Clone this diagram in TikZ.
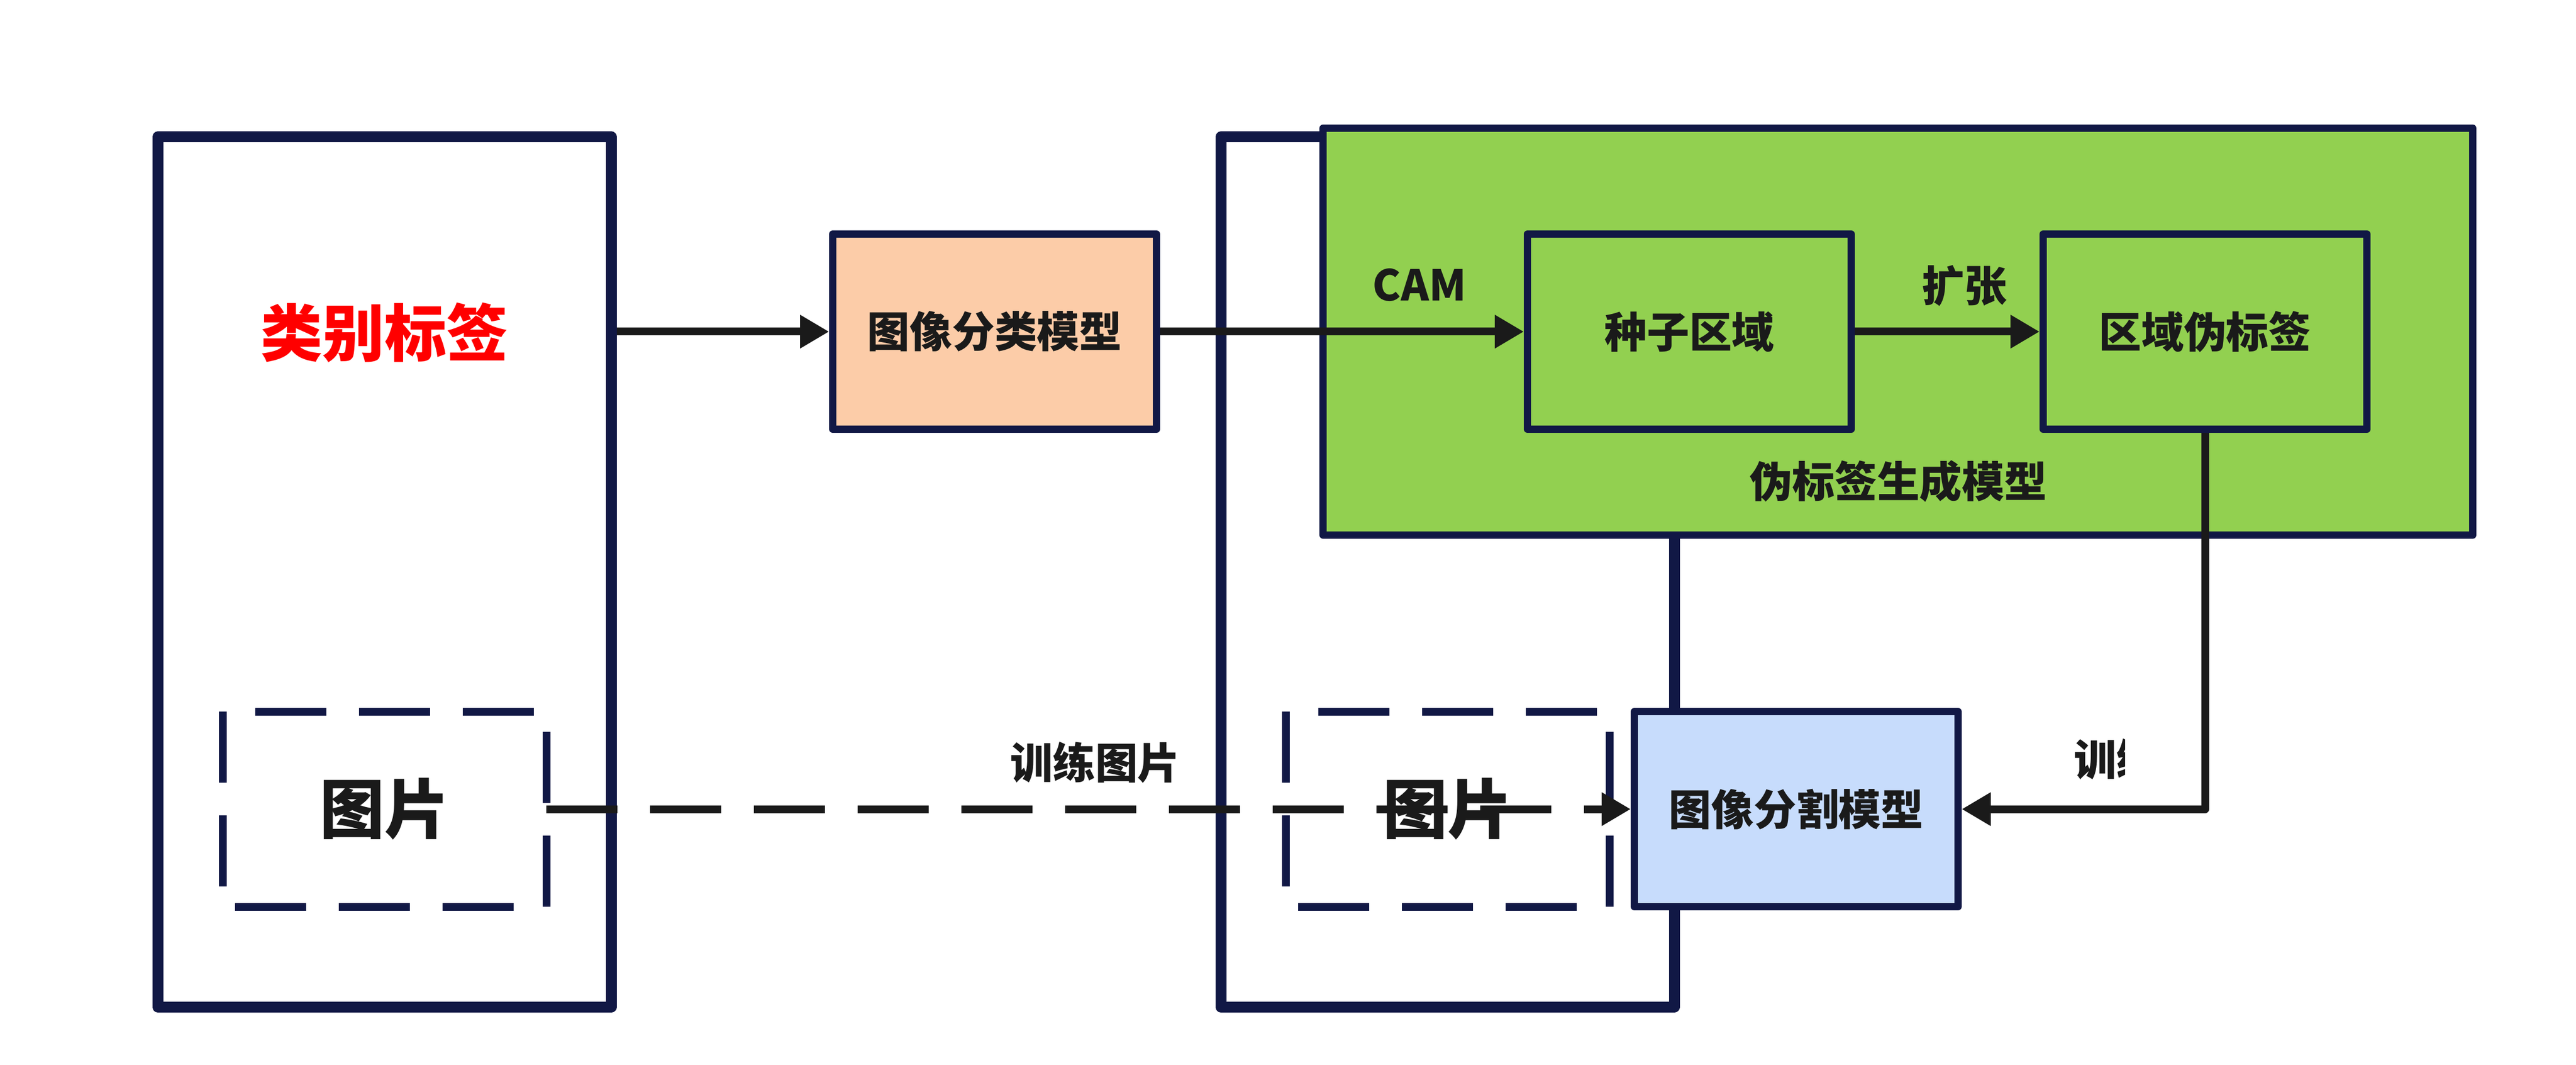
\documentclass[tikz,border=0pt]{standalone}
\usepackage{fontspec}
\setmainfont{Noto Sans CJK SC}
\usepackage{tikz}
\usetikzlibrary{arrows.meta}
\definecolor{navy}{RGB}{17,24,69}
\definecolor{ink}{RGB}{26,26,26}
\definecolor{leafgreen}{RGB}{146,208,80}
\definecolor{peach}{RGB}{252,204,168}
\definecolor{paleblue}{RGB}{199,220,252}
\tikzstyle{bigbox}=[
        draw=navy, line width=0.21cm, line join=round,
        minimum width=8.74cm, minimum height=16.76cm, inner sep=0pt
]
\tikzstyle{modelbox}=[
        draw=navy, line width=0.14cm, line join=round,
        minimum width=6.24cm, minimum height=3.76cm, inner sep=0pt,
        text=ink, font=\bfseries\fontsize{23.3pt}{28pt}\selectfont
]
\tikzstyle{picbox}=[
        minimum width=6.24cm, minimum height=3.76cm, inner sep=0pt, outer sep=0pt,
        text=ink, font=\bfseries\fontsize{35.5pt}{40pt}\selectfont
]
\tikzstyle{picdash}=[
        draw=navy, line width=0.15cm, dash pattern=on 1.37cm off 0.63cm, dash phase=1.37cm
]
\tikzstyle{lbl}=[
        text=ink, font=\bfseries\fontsize{23.3pt}{28pt}\selectfont, inner sep=0pt
]
\tikzstyle{arrowline}=[
        draw=ink, line width=0.15cm, line join=round,
        -{Triangle[length=0.56cm,width=0.61cm]}
]
\tikzstyle{trainline}=[
        arrowline, dash pattern=on 1.37cm off 0.63cm
]
\begin{document}
\begin{tikzpicture}
                        \path[fill=white] (0,0) rectangle (49.65,20.51);

                        \node[bigbox] (labelbox) at (7.41,9.49) {};
                        \node[bigbox] (imagebox) at (27.90,9.49) {};
                        \node[bigbox, line width=0.14cm, fill=leafgreen, minimum width=22.16cm, minimum height=7.84cm] (genbox) at (36.58,14.12) {};

                        \node[text=red, font=\bfseries\fontsize{34pt}{40pt}\selectfont] (classlbl) at (7.41,14.10) {类别标签};
                        \node[picbox] (pic1) at (7.41,4.92) {图片};
                        \draw[picdash] (pic1.north west) -- (pic1.north east) -- (pic1.south east) -- (pic1.south west) -- cycle;

                        \node[modelbox, fill=peach] (clsmodel) at (19.17,14.12) {图像分类模型};
                        \node[modelbox, fill=leafgreen] (seed) at (32.56,14.12) {种子区域};
                        \node[modelbox, fill=leafgreen] (region) at (42.50,14.12) {区域伪标签};
                        \node[lbl] (genlbl) at (36.59,11.24) {伪标签生成模型};

                        \node[picbox] (pic2) at (27.90,4.92) {图片};
                        \draw[picdash] (pic2.north west) -- (pic2.north east) -- (pic2.south east) -- (pic2.south west) -- cycle;
                        \node[modelbox, fill=paleblue] (segmodel) at (34.62,4.92) {图像分割模型};

                        \node[lbl] (camlbl) at (27.36,15.02) {CAM};
                        \node[lbl] (expandlbl) at (37.86,15.00) {扩张};
                        \node[lbl] (trainlbl) at (21.11,5.82) {训练图片};
                        \begin{scope}
                            \clip (39,4) rectangle (40.95,8);
                            \node[lbl] (trainlbl2) at (41.61,5.88) {训练图片};
                        \end{scope}

                        \draw[arrowline] (labelbox.east |- clsmodel.west) -- (clsmodel.west);
                        \draw[arrowline] (clsmodel.east) -- (seed.west);
                        \draw[arrowline] (seed.east) -- (region.west);
                        \draw[arrowline] (region.south) |- (segmodel.east);
                        \draw[trainline] (pic1.east) -- (segmodel.west);
\end{tikzpicture}
\end{document}
